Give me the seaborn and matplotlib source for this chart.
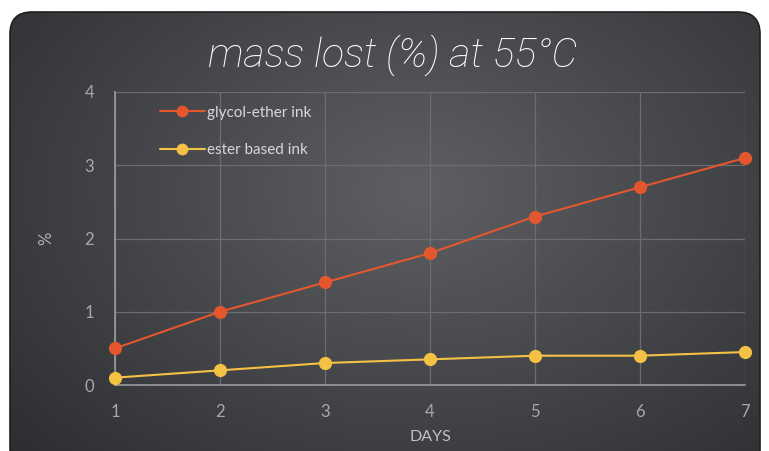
import numpy as np
import pandas as pd
import matplotlib
matplotlib.use("Agg")
import matplotlib.pyplot as plt
import seaborn as sns
from matplotlib.patches import FancyBboxPatch

days = [1, 2, 3, 4, 5, 6, 7]
glycol_ether = [0.5, 1.0, 1.4, 1.8, 2.3, 2.7, 3.1]
ester_based = [0.1, 0.2, 0.3, 0.35, 0.4, 0.4, 0.45]
series_names = ["glycol-ether ink", "ester based ink"]
yticks = [0, 1, 2, 3, 4]

df = pd.DataFrame({
    "day": days * 2,
    "value": glycol_ether + ester_based,
    "series": [series_names[0]] * len(days) + [series_names[1]] * len(days),
})

sns.set_theme(style="dark")
plt.rcParams['font.family'] = ['Lato', 'DejaVu Sans']

fig = plt.figure(figsize=(7.69, 4.51), dpi=100)
fig.patch.set_facecolor("white")

# background panel with radial gradient
bg = fig.add_axes([0, 0, 1, 1], zorder=0)
bg.set_xlim(0, 769)
bg.set_ylim(451, 0)
bg.axis("off")
yy, xx = np.mgrid[0:451, 0:769]
r = np.sqrt(((xx - 420) / 560.0) ** 2 + ((yy - 190) / 400.0) ** 2)
g = np.clip(1 - r, 0, 1)
lo = np.array([0.17, 0.175, 0.185])
hi = np.array([0.37, 0.375, 0.39])
img = lo + (hi - lo) * g[..., None]
im = bg.imshow(img, extent=(0, 769, 451, 0), aspect="auto")
panel = FancyBboxPatch((10, 12), 750, 460, boxstyle="round,pad=0,rounding_size=22",
                       transform=bg.transData, facecolor="none", edgecolor="#1e1f21", lw=1.2)
bg.add_patch(panel)
im.set_clip_path(panel)

ax = fig.add_axes([115 / 769, 1 - 385 / 451, (745 - 115) / 769, (385 - 92) / 451], zorder=1)
ax.set_facecolor("none")

palette = {series_names[0]: "#e4572e", series_names[1]: "#f4c145"}
sns.lineplot(data=df, x="day", y="value", hue="series", palette=palette, marker="o",
             markersize=9.5, markeredgewidth=0, linewidth=1.5, ax=ax, clip_on=False, zorder=3)

ax.set_xlim(1, 7)
ax.set_ylim(0, 4)
ax.set_xticks(days)
ax.set_yticks(yticks)
ax.grid(True, color="#6c6d70", linewidth=0.9)
ax.tick_params(axis="both", colors="#a8a9ab", labelsize=12, length=0)
ax.tick_params(axis="y", pad=15)
ax.tick_params(axis="x", pad=14)
for lab in ax.get_xticklabels() + ax.get_yticklabels():
    lab.set_color("#a8a9ab")
for s in ["top", "right"]:
    ax.spines[s].set_visible(False)
for s in ["left", "bottom"]:
    ax.spines[s].set_visible(True)
    ax.spines[s].set_color("#9a9b9d")
    ax.spines[s].set_linewidth(1.2)

ax.set_xlabel("DAYS", color="#c0c1c3", fontsize=11.5, labelpad=7)
ax.set_ylabel("%", color="#b0b1b3", fontsize=12, labelpad=22)

leg = ax.legend(loc="upper left", bbox_to_anchor=(0.05, 1.0), frameon=False,
                fontsize=11, handlelength=2.9, labelspacing=1.55, handletextpad=0.15)
for t in leg.get_texts():
    t.set_color("#d8d8d8")
for h in leg.legend_handles:
    h.set_markersize(8.5)

fig.text(393 / 769, 1 - 55 / 451, "mass lost (%) at 55°C", ha="center", va="center",
         fontsize=29.5, style="italic", color="#ffffff", fontweight="light",
         family=["Roboto", "DejaVu Sans"])

fig.savefig("out.png", dpi=100)
